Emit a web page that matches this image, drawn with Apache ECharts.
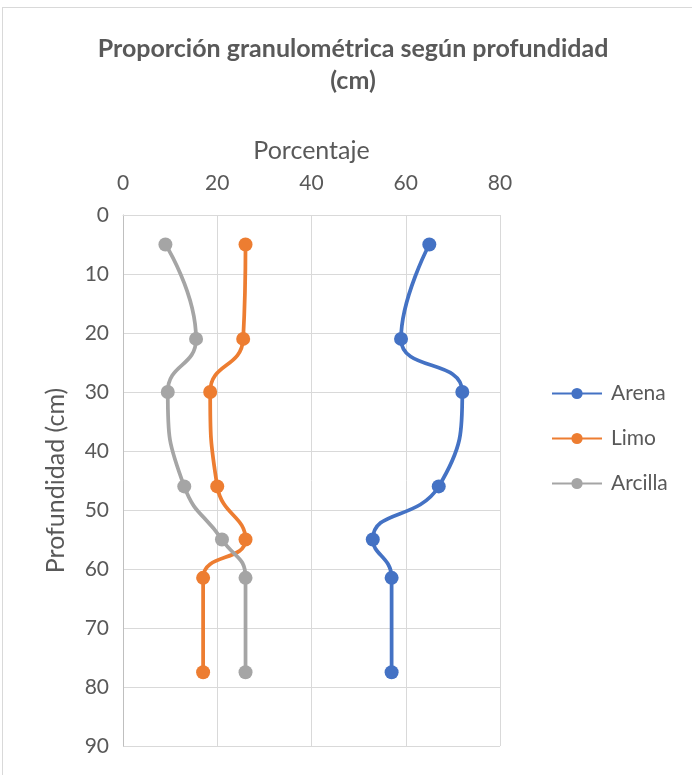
<!DOCTYPE html>
<html>
<head>
<meta charset="utf-8">
<script src="https://cdn.jsdelivr.net/npm/echarts@6/dist/echarts.min.js"></script>
<style>
  html, body { margin: 0; padding: 0; background: #ffffff; }
  #wrap { position: relative; width: 692px; height: 775px; overflow: hidden; }
  #frame { position: absolute; left: 2px; top: 7px; width: 720px; height: 800px;
           border-left: 1px solid #D9D9D9; border-top: 1px solid #D9D9D9; box-sizing: border-box; }
  #chart { position: absolute; left: 0; top: 0; width: 692px; height: 775px; }
</style>
</head>
<body>
<div id="wrap">
  <div id="frame"></div>
  <div id="chart"></div>
</div>
<script>
// Profundidad de cada muestra (cm)
const depths = [5, 21, 30, 46, 55, 61.5, 77.5];
// Porcentajes por fracción granulométrica
const arena   = [65, 59, 72, 67, 53, 57, 57];
const limo    = [26, 25.5, 18.5, 20, 26, 17, 17];
const arcilla = [9, 15.5, 9.5, 13, 21, 26, 26];
const seriesNames = ['Arena', 'Limo', 'Arcilla'];
const xTicks = { min: 0, max: 80, interval: 20 };
const yTicks = { min: 0, max: 90, interval: 10 };

const colors = ['#4472C4', '#ED7D31', '#A5A5A5'];
const textColor = '#595959';
const fontFamily = 'Lato, "Open Sans", sans-serif';

function pairs(values) {
  return values.map((v, i) => [v, depths[i]]);
}

const chart = echarts.init(document.getElementById('chart'), null, { renderer: 'canvas' });

const lineSeries = [arena, limo, arcilla].map((vals, i) => ({
  name: seriesNames[i],
  type: 'line',
  data: pairs(vals),
  smooth: 0.5,
  symbol: 'circle',
  symbolSize: 14,
  lineStyle: { width: 3.75, color: colors[i] },
  itemStyle: { color: colors[i] },
  emphasis: { disabled: true },
  animation: false
}));

chart.setOption({
  animation: false,
  title: {
    text: 'Proporción granulométrica según profundidad\n(cm)',
    left: 348,
    top: 28,
    textAlign: 'center',
    textStyle: {
      fontFamily: fontFamily,
      fontSize: 25,
      fontWeight: 'bold',
      color: textColor,
      lineHeight: 32
    }
  },
  legend: {
    orient: 'vertical',
    left: 546,
    top: 378,
    itemWidth: 50,
    itemHeight: 14,
    itemGap: 24,
    textStyle: { fontFamily: fontFamily, fontSize: 21, color: textColor, padding: [0, 0, 0, 4] },
    data: seriesNames
  },
  grid: { left: 123, right: 192, top: 215, bottom: 29 },
  xAxis: {
    type: 'value',
    position: 'top',
    min: xTicks.min,
    max: xTicks.max,
    interval: xTicks.interval,
    name: 'Porcentaje',
    nameLocation: 'middle',
    nameGap: 52,
    nameTextStyle: { fontFamily: fontFamily, fontSize: 25, color: textColor },
    axisLine: { show: true, lineStyle: { color: '#D9D9D9', width: 1 } },
    axisTick: { show: false },
    axisLabel: { fontFamily: fontFamily, fontSize: 21, color: textColor, margin: 21 },
    splitLine: { show: true, lineStyle: { color: '#D9D9D9', width: 1 } }
  },
  yAxis: {
    type: 'value',
    inverse: true,
    min: yTicks.min,
    max: yTicks.max,
    interval: yTicks.interval,
    name: 'Profundidad (cm)',
    nameLocation: 'middle',
    nameGap: 55,
    nameRotate: 90,
    nameTextStyle: { fontFamily: fontFamily, fontSize: 25, color: textColor },
    axisLine: { show: true, lineStyle: { color: '#BFBFBF', width: 1 } },
    axisTick: { show: false },
    axisLabel: { fontFamily: fontFamily, fontSize: 21, color: textColor, margin: 14 },
    splitLine: { show: true, lineStyle: { color: '#D9D9D9', width: 1 } }
  },
  series: lineSeries
});
</script>
</body>
</html>
